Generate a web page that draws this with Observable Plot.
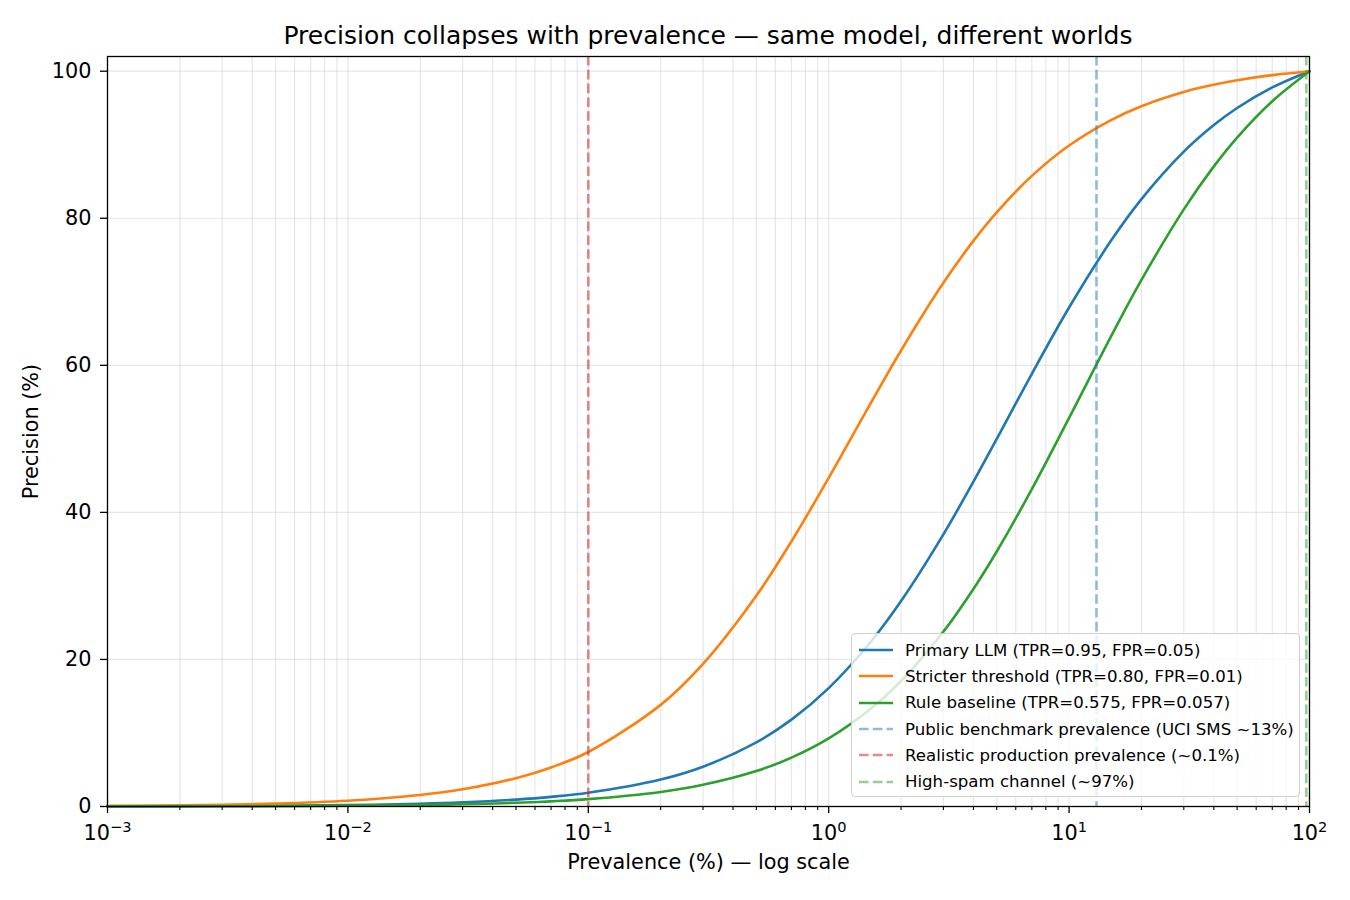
<!DOCTYPE html>
<html>
<head>
<meta charset="utf-8">
<script src="https://cdn.jsdelivr.net/npm/d3@7"></script>
<script src="https://cdn.jsdelivr.net/npm/@observablehq/plot@0.6"></script>
<style>
  html, body { margin: 0; padding: 0; background: #fff; }
  #wrap { position: relative; width: 1350px; height: 900px; font-family: "DejaVu Sans", sans-serif; color: #000; }
  #title { position: absolute; top: 23px; left: 107px; width: 1202px; text-align: center; font-size: 25px; line-height: 1; white-space: nowrap; }
  #chart { position: absolute; top: 50px; left: 0; }
  #legend { position: absolute; left: 851px; top: 633px; width: 449px; height: 164px; box-sizing: border-box;
            border: 1px solid #d0d0d0; border-radius: 4px; background: rgba(255,255,255,0.8); padding: 3px 6px; }
  .row { display: flex; align-items: center; height: 26.3px; font-size: 16.6px; white-space: nowrap; }
  .row svg { margin-right: 12px; flex: none; }
</style>
</head>
<body>
<div id="wrap">
  <div id="title">Precision collapses with prevalence — same model, different worlds</div>
  <div id="chart"></div>
  <div id="legend"></div>
</div>
<script>
// Prevalence (%) sample points
const prevalence = [0.001,0.002,0.005,0.01,0.02,0.03,0.05,0.07,0.1,0.2,0.3,0.5,0.7,1,1.5,2,3,4,5,7,10,15,20,30,40,50,70,100];
// Precision (%) for each series
const primaryLLM = [0.02,0.04,0.1,0.19,0.38,0.57,0.94,1.31,1.87,3.67,5.41,8.72,11.81,16.10,22.44,27.94,37.01,44.19,50.0,58.85,67.86,77.03,82.61,89.06,92.68,95.0,97.79,100];
const stricterThreshold = [0.08,0.16,0.4,0.79,1.57,2.34,3.85,5.31,7.41,13.82,19.40,28.67,36.06,44.69,54.92,62.02,71.22,76.92,80.81,85.76,89.89,93.39,95.24,97.17,98.16,98.77,99.47,100];
const ruleBaseline = [0.01,0.02,0.05,0.1,0.2,0.3,0.5,0.7,1.0,1.98,2.95,4.82,6.64,9.25,13.32,17.07,23.78,29.59,34.68,43.16,52.85,64.03,71.61,81.21,87.06,90.98,95.92,100];

const seriesNames = [
  "Primary LLM (TPR=0.95, FPR=0.05)",
  "Stricter threshold (TPR=0.80, FPR=0.01)",
  "Rule baseline (TPR=0.575, FPR=0.057)"
];
const seriesColors = ["#1f77b4", "#ff7f0e", "#2ca02c"];

// Reference prevalence lines
const refNames = [
  "Public benchmark prevalence (UCI SMS ~13%)",
  "Realistic production prevalence (~0.1%)",
  "High-spam channel (~97%)"
];
const refValues = [13, 0.1, 97];
const refColors = ["#1f77b4", "#d62728", "#2ca02c"];
const refOpacity = [0.5, 0.55, 0.5];

// Axis ticks
const xMajorTicks = [0.001, 0.01, 0.1, 1, 10, 100];
const xMajorExponents = ["−3", "−2", "−1", "0", "1", "2"];
const yTicks = [0, 20, 40, 60, 80, 100];

const xAllTicks = d3.scaleLog().domain([0.001, 100]).ticks();
const xMinorTicks = xAllTicks.filter(t => !xMajorTicks.some(m => Math.abs(m - t) / m < 1e-9));

const seriesValues = [primaryLLM, stricterThreshold, ruleBaseline];
const lineData = seriesValues.flatMap((vals, i) =>
  prevalence.map((p, j) => ({ p, v: vals[j], s: seriesNames[i] }))
);
const refData = refValues.map((v, i) => ({ v, name: refNames[i], color: refColors[i], op: refOpacity[i] }));

const dash = "9.6,4.2";

const chart = Plot.plot({
  width: 1350,
  height: 850,
  marginTop: 6,
  marginBottom: 94,
  marginLeft: 107,
  marginRight: 41,
  style: { fontFamily: "DejaVu Sans", fontSize: "20.8px", color: "#000", background: "transparent" },
  x: { type: "log", domain: [0.001, 100] },
  y: { domain: [0, 102] },
  color: { domain: seriesNames, range: seriesColors },
  marks: [
    Plot.gridX(xAllTicks, { stroke: "#b0b0b0", strokeOpacity: 0.3, strokeWidth: 1.2 }),
    Plot.gridY(yTicks, { stroke: "#b0b0b0", strokeOpacity: 0.3, strokeWidth: 1.2 }),
    Plot.line(lineData, { x: "p", y: "v", stroke: "s", z: "s", strokeWidth: 2.6, curve: "catmull-rom" }),
    ...refData.map(r => Plot.ruleX([r.v], { stroke: r.color, strokeOpacity: r.op, strokeWidth: 2.6, strokeDasharray: dash })),
    Plot.axisX(xMinorTicks, { tickSize: 4, tickFormat: () => "", stroke: "#000", strokeWidth: 1.1, label: null }),
    Plot.axisX(xMajorTicks, {
      tickSize: 7, tickPadding: 12, stroke: "#000", strokeWidth: 1.3,
      tickFormat: d => "10^" + xMajorExponents[xMajorTicks.indexOf(d)],
      label: "Prevalence (%) — log scale", labelAnchor: "center", labelArrow: "none", labelOffset: 62
    }),
    Plot.axisY(yTicks, {
      tickSize: 7, tickPadding: 9, stroke: "#000", strokeWidth: 1.3,
      label: "Precision (%)", labelAnchor: "center", labelArrow: "none", labelOffset: 84
    }),
    Plot.frame({ stroke: "#000", strokeWidth: 1.3 })
  ]
});

// Render x tick labels as 10 with a raised, smaller exponent (like mathtext)
d3.select(chart).selectAll("text").each(function () {
  const txt = this.textContent;
  if (/^10\^/.test(txt) && this.childElementCount === 0) {
    const exp = txt.slice(3);
    const sel = d3.select(this);
    sel.text(null);
    sel.append("tspan").text("10");
    sel.append("tspan").attr("font-size", "14.6px").attr("dy", "-8").text(exp);
  }
});
document.getElementById("chart").appendChild(chart);

// Legend (HTML overlay inside the plot area)
const legend = document.getElementById("legend");
const items = [
  ...seriesNames.map((n, i) => ({ name: n, color: seriesColors[i], op: 1, dashed: false })),
  ...refData.map(r => ({ name: r.name, color: r.color, op: r.op, dashed: true }))
];
for (const it of items) {
  const row = document.createElement("div");
  row.className = "row";
  const sw = d3.create("svg").attr("width", 35).attr("height", 10);
  sw.append("line").attr("x1", 1).attr("x2", 35).attr("y1", 5).attr("y2", 5)
    .attr("stroke", it.color).attr("stroke-opacity", it.op).attr("stroke-width", 2.6)
    .attr("stroke-dasharray", it.dashed ? dash : null);
  row.appendChild(sw.node());
  const t = document.createElement("span");
  t.textContent = it.name;
  row.appendChild(t);
  legend.appendChild(row);
}
</script>
</body>
</html>
